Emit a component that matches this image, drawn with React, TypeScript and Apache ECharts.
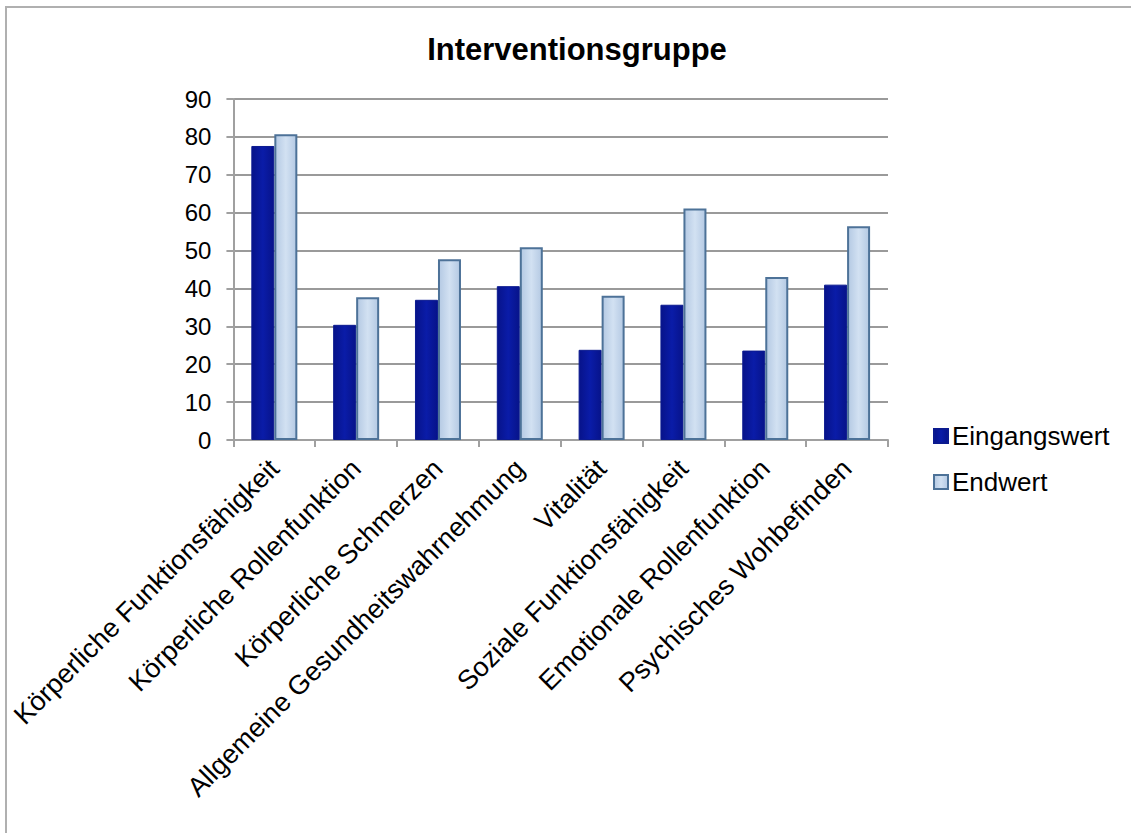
import React, { useEffect, useRef } from "react";
import * as echarts from "echarts";

const categories = [
  "Körperliche Funktionsfähigkeit",
  "Körperliche Rollenfunktion",
  "Körperliche Schmerzen",
  "Allgemeine Gesundheitswahrnehmung",
  "Vitalität",
  "Soziale Funktionsfähigkeit",
  "Emotionale Rollenfunktion",
  "Psychisches Wohbefinden",
];
const eingangswert = [77.6, 30.4, 37.0, 40.6, 23.8, 35.7, 23.6, 41.0];
const endwert = [80.7, 37.7, 47.7, 50.9, 38.1, 61.1, 43.0, 56.4];
const seriesNames = ["Eingangswert", "Endwert"];
const chartTitle = "Interventionsgruppe";

const FONT = "'Liberation Sans', Arial, Helvetica, sans-serif";

export default function App() {
  const ref = useRef<HTMLDivElement>(null);
  useEffect(() => {
    if (!ref.current) return;
    const chart = echarts.init(ref.current, null, { renderer: "svg" });
    const darkFill = new echarts.graphic.LinearGradient(0, 0, 1, 0, [
      { offset: 0, color: "#07138a" },
      { offset: 0.5, color: "#0a1ca8" },
      { offset: 1, color: "#07138a" },
    ]);
    const lightFill = new echarts.graphic.LinearGradient(0, 0, 1, 0, [
      { offset: 0, color: "#b4c9e3" },
      { offset: 0.5, color: "#d2e1f2" },
      { offset: 1, color: "#b4c9e3" },
    ]);
    chart.setOption({
      animation: false,
      backgroundColor: "#ffffff",
      textStyle: { fontFamily: FONT },
      title: {
        text: chartTitle,
        left: 565,
        top: 21,
        textAlign: "center",
        textStyle: { fontSize: 31, fontWeight: "bold", color: "#000", fontFamily: FONT },
      },
      legend: {
        orient: "vertical",
        left: 921,
        top: 410,
        itemWidth: 14,
        itemHeight: 14,
        itemGap: 20,
        icon: "rect",
        textStyle: { fontSize: 26, color: "#000", fontFamily: FONT, padding: [0, 0, 0, -1] },
        data: seriesNames,
      },
      grid: { left: 225, top: 91, width: 656, height: 341, containLabel: false },
      xAxis: {
        type: "category",
        data: categories,
        boundaryGap: true,
        axisLine: { show: true, lineStyle: { color: "#a0a0a0", width: 2 } },
        axisTick: { show: true, alignWithLabel: false, length: 7, lineStyle: { color: "#a0a0a0", width: 2 } },
        axisLabel: {
          interval: 0,
          rotate: 45,
          fontSize: 27,
          color: "#000",
          fontFamily: FONT,
          margin: 24,
        },
      },
      yAxis: {
        type: "value",
        min: 0,
        max: 90,
        interval: 10,
        axisLine: { show: true, lineStyle: { color: "#a0a0a0", width: 2 } },
        axisTick: { show: true, inside: false, length: 7, lineStyle: { color: "#a0a0a0", width: 2 } },
        splitLine: { show: true, lineStyle: { color: "#9a9a9a", width: 2 } },
        axisLabel: { fontSize: 24, color: "#000", fontFamily: FONT, margin: 22 },
      },
      series: [
        {
          name: seriesNames[0],
          type: "bar",
          data: eingangswert,
          barWidth: 23,
          barGap: "0%",
          itemStyle: { color: darkFill, borderColor: "#0b1a8f", borderWidth: 1 },
        },
        {
          name: seriesNames[1],
          type: "bar",
          data: endwert,
          barWidth: 23,
          barGap: "0%",
          itemStyle: { color: lightFill, borderColor: "#4d7298", borderWidth: 2 },
        },
      ],
    });
    return () => chart.dispose();
  }, []);
  return (
    <div
      style={{
        position: "absolute",
        left: 5,
        top: 6,
        borderTop: "2px solid #b0b0b0",
        borderLeft: "2px solid #b0b0b0",
        overflow: "hidden",
      }}
    >
      <div ref={ref} style={{ width: 1124, height: 825 }} />
    </div>
  );
}
